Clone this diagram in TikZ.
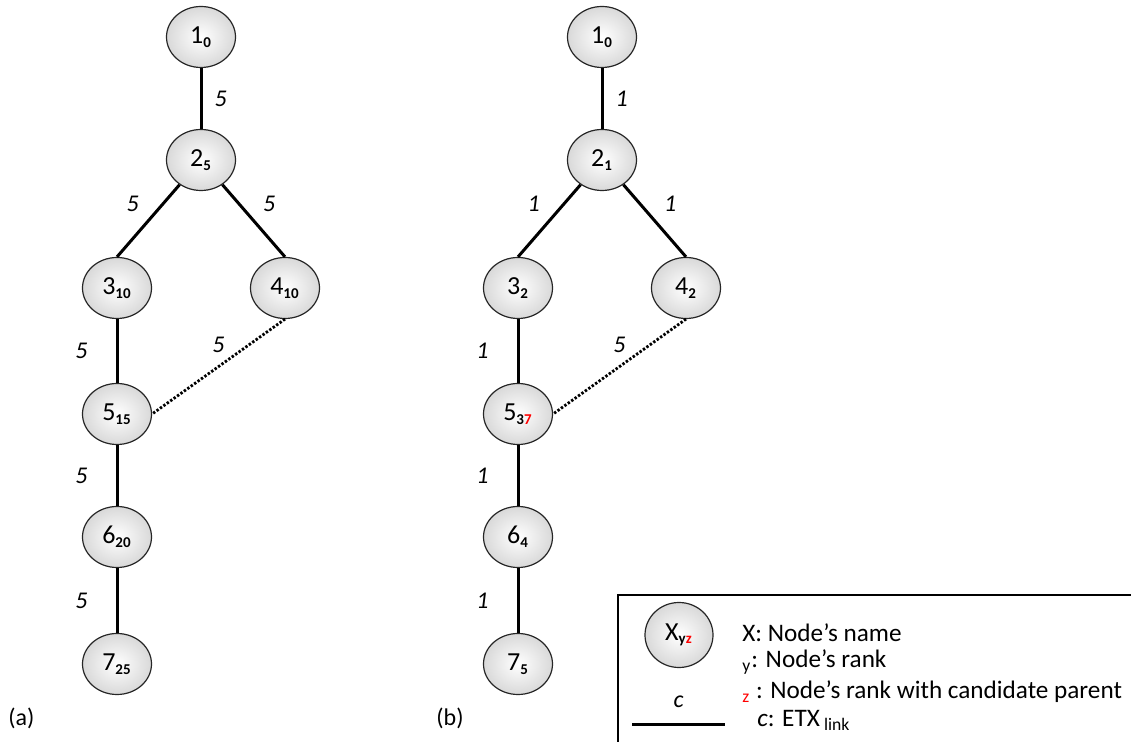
\documentclass[tikz,border=0pt]{standalone}
\usepackage{fontspec}
\setmainfont{Carlito}
\usepackage{xcolor}
\usetikzlibrary{shapes.geometric}
\newcommand{\sbx}[1]{\textsubscript{\fontsize{7.5}{8}\selectfont\bfseries #1}}
\newcommand{\rk}[2]{#1\sbx{#2}}
\tikzset{
  rnode/.style = {ellipse,draw=black!85,semithick,inner color=white,outer color=gray!30,
                  minimum width=34.5pt,minimum height=30.5pt,inner sep=0pt,
                  font=\fontsize{13}{15}\selectfont},
  tedge/.style = {line width=1.5pt},
  cedge/.style = {line width=1.4pt,dash pattern=on 1.2pt off 0.9pt},
  elab/.style  = {font=\fontsize{12}{14}\selectfont\itshape,inner sep=2pt},
  legtxt/.style= {font=\fontsize{12.6}{15}\selectfont,anchor=west,inner sep=0pt}
}
\begin{document}
\begin{tikzpicture}[x=0.5pt,y=-0.5pt]
  \useasboundingbox (0,0) rectangle (1131,742);
  % tree (a)
  \node[rnode] (a1) at (201,37)  {\rk{1}{0}};
  \node[rnode] (a2) at (201,160) {\rk{2}{5}};
  \node[rnode] (a3) at (117,288) {\rk{3}{10}};
  \node[rnode] (a4) at (285,288) {\rk{4}{10}};
  \node[rnode] (a5) at (117,414) {\rk{5}{15}};
  \node[rnode] (a6) at (117,537) {\rk{6}{20}};
  \node[rnode] (a7) at (117,664) {\rk{7}{25}};
  \draw[tedge] (a1) -- node[elab,right=4pt] {5} (a2);
  \draw[tedge] (a2) -- node[elab,above left=2pt] {5} (a3.north);
  \draw[tedge] (a2) -- node[elab,above right=2pt] {5} (a4.north);
  \draw[tedge] (a3) -- node[elab,left=12pt] {5} (a5);
  \draw[cedge] (a4.south) -- node[elab,above=4pt] {5} (a5.east);
  \draw[tedge] (a5) -- node[elab,left=12pt] {5} (a6);
  \draw[tedge] (a6) -- node[elab,left=12pt] {5} (a7);
  \node[legtxt,font=\fontsize{12}{14}\selectfont] (capa) at (8,718) {(a)};
  % tree (b)
  \node[rnode] (b1) at (602,37)  {\rk{1}{0}};
  \node[rnode] (b2) at (602,160) {\rk{2}{1}};
  \node[rnode] (b3) at (518,288) {\rk{3}{2}};
  \node[rnode] (b4) at (686,288) {\rk{4}{2}};
  \node[rnode] (b5) at (518,414) {5\sbx{3\textcolor{red}{7}}};
  \node[rnode] (b6) at (518,537) {\rk{6}{4}};
  \node[rnode] (b7) at (518,664) {\rk{7}{5}};
  \draw[tedge] (b1) -- node[elab,right=4pt] {1} (b2);
  \draw[tedge] (b2) -- node[elab,above left=2pt] {1} (b3.north);
  \draw[tedge] (b2) -- node[elab,above right=2pt] {1} (b4.north);
  \draw[tedge] (b3) -- node[elab,left=12pt] {1} (b5);
  \draw[cedge] (b4.south) -- node[elab,above=4pt] {5} (b5.east);
  \draw[tedge] (b5) -- node[elab,left=12pt] {1} (b6);
  \draw[tedge] (b6) -- node[elab,left=12pt] {1} (b7);
  \node[legtxt,font=\fontsize{12}{14}\selectfont] (capb) at (436,718) {(b)};
  % legend
  \draw[semithick] (618,595) rectangle (1140,750);
  \node[rnode,minimum width=34pt,minimum height=32.5pt] (lx) at (679,635)
    {X\sbx{y\textcolor{red}{z}}};
  \coordinate (ll) at (632,725);
  \coordinate (lr) at (725,725);
  \draw[tedge] (ll) -- node[elab,above=6pt] {c} (lr);
  \node[legtxt] (t1) at (742,633) {X: Node’s name};
  \node[legtxt] (t2) at (742,662) {\textsubscript{y}: Node’s rank};
  \node[legtxt] (t3) at (742,692) {\textsubscript{\textcolor{red}{z}} : Node’s rank with candidate parent};
  \node[legtxt] (t4) at (757,720) {\textit{c}: ETX\,\textsubscript{link}};
\end{tikzpicture}
\end{document}
